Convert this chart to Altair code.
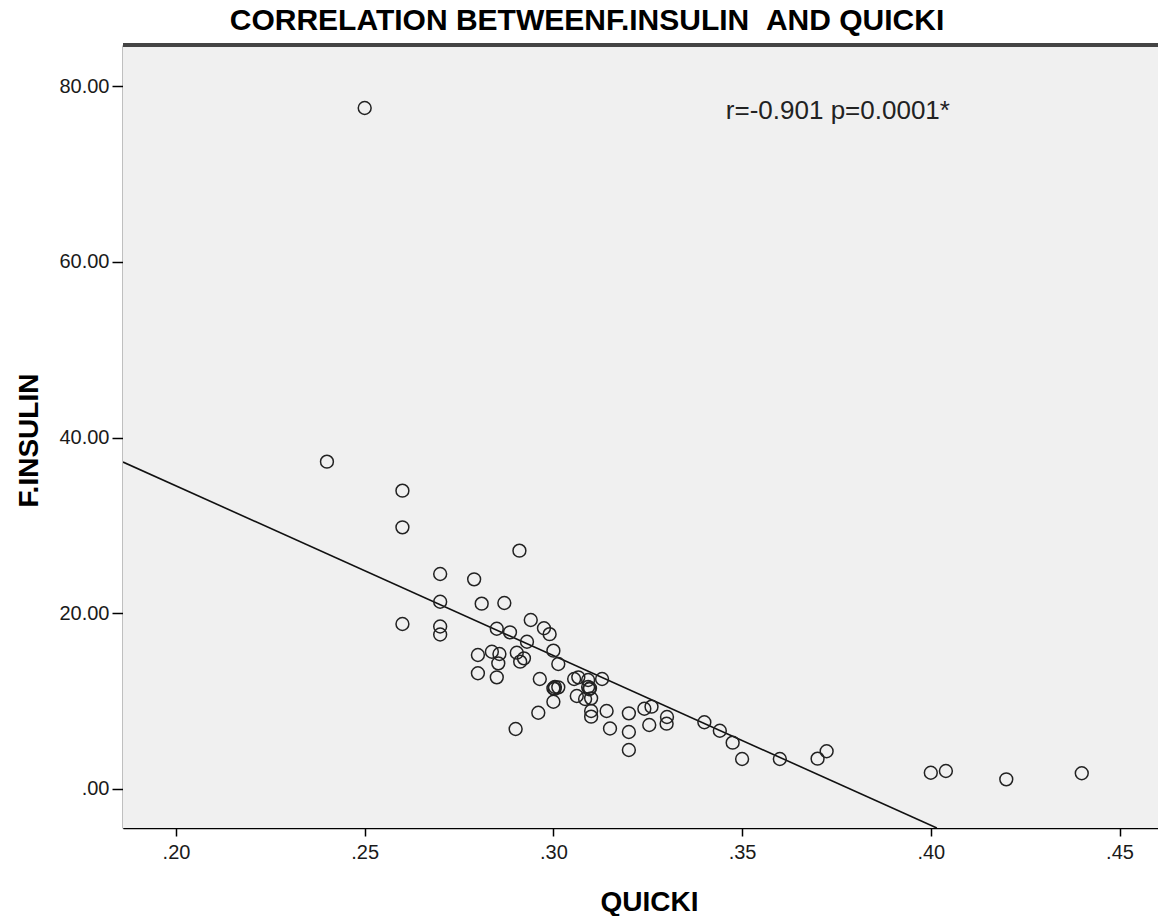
import altair as alt
import pandas as pd

# QUICKI values (x) and fasting insulin values (y)
quicki = [0.250, 0.240, 0.260, 0.260, 0.260, 0.291, 0.270, 0.279, 0.270, 0.281,
          0.287, 0.270, 0.270, 0.294, 0.285, 0.2885, 0.2975, 0.299, 0.293, 0.300,
          0.3013, 0.280, 0.2837, 0.2857, 0.2854, 0.2903, 0.2922, 0.2912, 0.280, 0.285,
          0.2964, 0.300, 0.3004, 0.3013, 0.300, 0.296, 0.290, 0.3055, 0.3066, 0.3092,
          0.3129, 0.3097, 0.3092, 0.3062, 0.3084, 0.310, 0.310, 0.310, 0.3141, 0.315,
          0.320, 0.320, 0.320, 0.3241, 0.326, 0.3254, 0.3301, 0.330, 0.340, 0.3441,
          0.3475, 0.350, 0.360, 0.370, 0.3724, 0.400, 0.404, 0.420, 0.440, 0.3003,
          0.3095]
insulin = [77.50, 37.25, 33.95, 29.78, 18.78, 27.12, 24.47, 23.86, 21.31, 21.09,
           21.17, 18.49, 17.58, 19.23, 18.24, 17.83, 18.29, 17.62, 16.76, 15.74,
           14.22, 15.25, 15.62, 15.36, 14.30, 15.51, 14.87, 14.49, 13.17, 12.71,
           12.52, 11.46, 11.61, 11.57, 9.93, 8.68, 6.83, 12.52, 12.71, 12.40,
           12.52, 11.46, 11.61, 10.58, 10.24, 10.32, 8.88, 8.23, 8.88, 6.88,
           8.61, 6.49, 4.44, 9.13, 9.37, 7.28, 8.19, 7.43, 7.59, 6.63,
           5.27, 3.41, 3.41, 3.45, 4.29, 1.85, 2.05, 1.10, 1.79, 11.40,
           11.35]

# Fitted line end points
line_quicki = [0.18596, 0.4016]
line_insulin = [37.21, -4.44]

# Annotation and chart title
note_text = ["r=-0.901 p=0.0001*"]
note_quicki = [0.3457]
note_insulin = [77.15]
title_text = ["CORRELATION BETWEENF.INSULIN \u00a0AND QUICKI"]

x_ticks = [0.20, 0.25, 0.30, 0.35, 0.40, 0.45]
y_ticks = [0, 20, 40, 60, 80]

W, H = 1035, 783
FONT = "Liberation Sans"

pts = pd.DataFrame({"QUICKI": quicki, "INS": insulin})
ln = pd.DataFrame({"QUICKI": line_quicki, "INS": line_insulin})
note = pd.DataFrame({"QUICKI": note_quicki, "INS": note_insulin, "t": note_text})
ttl = pd.DataFrame({"t": title_text})

x_scale = alt.Scale(domain=[0.18596, 0.46020], nice=False, zero=False)
y_scale = alt.Scale(domain=[-4.44, 84.67], nice=False, zero=False)

x_axis = alt.Axis(
    values=x_ticks, labelExpr="substring(format(datum.value, '.2f'), 1)",
    labelFont=FONT, labelFontSize=20, labelColor="#1a1a1a", labelPadding=6,
    tickSize=8, tickColor="#000", tickWidth=1.5, domainColor="#000", domainWidth=1.5,
    grid=False, title="QUICKI", titleFont=FONT, titleFontSize=28,
    titleFontWeight="bold", titleColor="#000", titleX=526, titleY=82,
    titleBaseline="alphabetic", titleAlign="center",
)
y_axis = alt.Axis(
    values=y_ticks,
    labelExpr="datum.value == 0 ? '.00' : format(datum.value, '.2f')",
    labelFont=FONT, labelFontSize=20, labelColor="#1a1a1a", labelPadding=3,
    tickSize=11, tickColor="#000", tickWidth=1.5, domainColor="#000", domainWidth=1.5,
    grid=False, title="F.INSULIN", titleFont=FONT, titleFontSize=28,
    titleFontWeight="bold", titleColor="#000", titleX=-94, titleY=395,
    titleBaseline="middle", titleAlign="center", titleAngle=270,
)

panel = alt.Chart(pts).mark_rect(color="#f0f0f0").encode(
    x=alt.value(0), x2=alt.value(W), y=alt.value(0), y2=alt.value(H)
)

points = alt.Chart(pts).mark_point(
    shape="circle", filled=False, size=165, stroke="#222", strokeWidth=1.5, opacity=1
).encode(
    x=alt.X("QUICKI:Q", scale=x_scale, axis=x_axis),
    y=alt.Y("INS:Q", scale=y_scale, axis=y_axis),
)

fit = alt.Chart(ln).mark_line(color="#111", strokeWidth=1.6, clip=True).encode(
    x=alt.X("QUICKI:Q", scale=x_scale),
    y=alt.Y("INS:Q", scale=y_scale),
)

txt = alt.Chart(note).mark_text(
    align="left", baseline="middle", font=FONT, fontSize=26, color="#222"
).encode(
    x=alt.X("QUICKI:Q", scale=x_scale),
    y=alt.Y("INS:Q", scale=y_scale),
    text="t:N",
)

title_mark = alt.Chart(ttl).mark_text(
    align="center", baseline="alphabetic", font=FONT, fontSize=30,
    fontWeight="bold", color="#000"
).encode(x=alt.value(464), y=alt.value(-15), text="t:N")

top_border = alt.Chart(pts).mark_rule(color="#444", strokeWidth=2.5).encode(
    x=alt.value(0), x2=alt.value(W), y=alt.value(0)
)

chart = alt.layer(panel, fit, points, txt, top_border, title_mark).properties(
    width=W, height=H,
    autosize=alt.AutoSizeParams(type="none"),
    padding={"left": 115, "top": 37, "right": 0, "bottom": 90},
).configure_view(strokeWidth=0).configure(background="white")

chart.save("out.html", embed_options={"renderer": "svg", "actions": False})
